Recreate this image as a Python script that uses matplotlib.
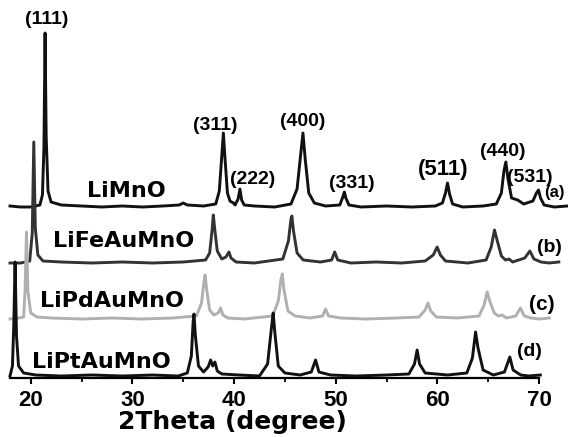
import matplotlib
matplotlib.use("Agg")
import matplotlib.pyplot as plt
from matplotlib.ticker import MultipleLocator

# XRD patterns, intensity (a.u.) above each trace's own baseline
a_x = [17.96, 19.0, 20.0, 20.9, 21.15, 21.3, 21.41, 21.52, 21.7, 22.0, 23.0, 25.0, 27.0, 29.0, 31.0,
       33.0, 34.6, 35.0, 35.4, 37.0, 38.2, 38.55, 38.8, 38.95, 39.1, 39.35, 39.6, 39.76, 39.95, 40.1,
       40.4, 40.58, 40.75, 41.0, 42.0, 44.0, 45.6, 46.2, 46.55, 46.78, 47.0, 47.35, 47.9, 49.0, 50.4,
       50.7, 50.85, 51.0, 51.3, 52.5, 55.0, 57.5, 59.8, 60.5, 60.8, 61.0, 61.2, 61.5, 62.5, 64.5,
       65.8, 66.3, 66.55, 66.74, 66.95, 67.3, 67.9, 68.5, 69.4, 69.75, 69.95, 70.15, 70.5, 71.5, 72.8]
a_y = [1, 0, 0, 2, 12, 60, 174, 70, 16, 5, 2, 1, 0, 1, 0,
       1, 2, 4, 2, 1, 3, 16, 52, 74, 50, 14, 6, 5, 4, 2,
       8, 18, 7, 2, 1, 0, 3, 18, 52, 74, 48, 14, 4, 1, 2,
       10, 15, 9, 2, 0, 1, 0, 1, 4, 14, 24, 13, 3, 0, 1,
       3, 14, 36, 45, 28, 9, 7, 3, 6, 14, 17, 9, 2, 0, 1]

b_x = [17.96, 19.0, 19.9, 20.15, 20.3, 20.45, 20.7, 21.2, 23.0, 26.0, 29.0, 32.0, 35.0, 37.2, 37.6,
       37.85, 37.96, 38.1, 38.35, 38.8, 39.2, 39.5, 39.7, 40.2, 42.0, 44.8, 45.35, 45.6, 45.69, 45.85,
       46.2, 46.8, 48.5, 49.6, 49.9, 50.2, 51.5, 54.0, 56.5, 58.8, 59.6, 59.98, 60.3, 60.8, 63.0,
       64.8, 65.3, 65.62, 65.9, 66.3, 66.7, 67.06, 67.4, 68.6, 69.1, 69.5, 70.2, 71.0, 71.95]
b_y = [0, 0, 2, 30, 121, 35, 8, 2, 1, 0, 1, 0, 1, 3, 10,
       34, 48, 34, 12, 4, 6, 11, 5, 1, 0, 4, 22, 44, 47, 32,
       10, 3, 1, 3, 11, 3, 0, 1, 0, 2, 8, 16, 8, 2, 0,
       3, 16, 33, 22, 7, 3, 4, 1, 5, 12, 4, 1, 0, 1]

c_x = [17.96, 18.8, 19.3, 19.45, 19.58, 19.72, 20.0, 20.6, 22.0, 25.0, 28.0, 31.0, 34.0, 36.3, 36.8,
       37.05, 37.15, 37.3, 37.6, 38.0, 38.45, 38.68, 38.9, 39.4, 41.0, 43.8, 44.35, 44.62, 44.75, 44.9,
       45.3, 46.0, 47.5, 48.7, 49.0, 49.3, 50.5, 53.0, 56.0, 58.2, 58.8, 59.07, 59.35, 59.9, 62.0,
       64.1, 64.6, 64.9, 65.15, 65.6, 66.0, 66.37, 66.8, 67.7, 68.18, 68.55, 69.2, 70.0, 71.0]
c_y = [0, 1, 2, 30, 87, 28, 6, 2, 1, 0, 1, 0, 1, 3, 16,
       38, 44, 30, 9, 4, 6, 11, 4, 1, 0, 3, 18, 40, 45, 30,
       8, 3, 1, 3, 10, 3, 1, 0, 1, 2, 9, 16, 8, 2, 1,
       3, 14, 27, 18, 6, 3, 4, 1, 3, 11, 3, 1, 0, 1]

d_x = [17.96, 18.2, 18.33, 18.46, 18.6, 18.8, 19.3, 20.5, 23.0, 26.0, 29.0, 32.0, 34.5, 35.4, 35.8,
       35.98, 36.06, 36.2, 36.5, 37.0, 37.45, 37.7, 37.9, 38.12, 38.35, 38.8, 40.5, 42.5, 43.3, 43.7,
       43.85, 44.0, 44.35, 45.0, 46.5, 47.6, 48.02, 48.35, 49.5, 52.0, 55.0, 57.2, 57.75, 58.01, 58.25,
       58.8, 61.0, 62.9, 63.45, 63.76, 64.0, 64.5, 65.5, 66.6, 67.13, 67.45, 68.2, 69.0, 70.13]
d_y = [0, 10, 50, 114, 40, 10, 3, 1, 0, 1, 0, 1, 0, 3, 20,
       55, 62, 40, 10, 4, 9, 16, 10, 14, 5, 2, 1, 0, 12, 50,
       63, 45, 10, 3, 1, 4, 16, 4, 1, 0, 1, 2, 12, 26, 12,
       3, 1, 3, 18, 44, 28, 6, 1, 4, 19, 6, 1, 0, 1]

samples = ["LiMnO", "LiFeAuMnO", "LiPdAuMnO", "LiPtAuMnO"]
tags = ["(a)", "(b)", "(c)", "(d)"]
offsets = [171, 115, 59, 2]   # vertical stacking of the patterns

hkl = ["(111)", "(311)", "(222)", "(400)", "(331)", "(511)", "(440)", "(531)"]
hkl_x = [21.6, 38.12, 41.86, 46.78, 51.6, 60.55, 66.44, 69.1]
hkl_y = [358, 253, 198, 256, 195, 209, 226, 200]

fig = plt.figure(figsize=(5.68, 4.37), dpi=100)
ax = fig.add_axes([10 / 568, 59 / 437, 529 / 568, 373 / 437])

xs = [a_x, b_x, c_x, d_x]
ys = [a_y, b_y, c_y, d_y]
colors = ["#111111", "#333333", "#b0b0b0", "#111111"]
for x, y, off, col in zip(xs, ys, offsets, colors):
    ax.plot(x, [v + off for v in y], color=col, lw=2.1, clip_on=False, solid_joinstyle="round")

# sample names
name_pos = [(29.4, 187), (29.1, 137), (28.0, 77), (26.9, 16)]
for s, (px, py) in zip(samples, name_pos):
    ax.text(px, py, s, ha="center", va="center", fontsize=16, fontweight="bold",
            family="DejaVu Sans", color="black")

# (a)...(d) tags
tag_pos = [(72.55, 186, "right", 12), (71.07, 130, "center", 14), (70.28, 74, "center", 15), (69.1, 26, "center", 14)]
for t, (px, py, ha, fs) in zip(tags, tag_pos):
    ax.text(px, py, t, ha=ha, va="center", fontsize=fs, fontweight="bold",
            family="Liberation Sans", clip_on=False)

for lab, hx, hy in zip(hkl, hkl_x, hkl_y):
    fs = 16 if lab == "(511)" else 14
    ax.text(hx, hy, lab, ha="center", va="center", fontsize=fs, fontweight="bold",
            family="Liberation Sans")

ax.set_xlim(17.96, 70)
ax.set_ylim(0, 373)
for side in ["left", "right", "top"]:
    ax.spines[side].set_visible(False)
ax.spines["bottom"].set_linewidth(1.6)
ax.set_yticks([])
ax.xaxis.set_major_locator(MultipleLocator(10))
ax.xaxis.set_minor_locator(MultipleLocator(5))
ax.tick_params(axis="x", which="major", direction="out", length=4, width=1.5, pad=5)
ax.tick_params(axis="x", which="minor", direction="out", length=3, width=1.3)
for lbl in ax.get_xticklabels():
    lbl.set_fontsize(16)
    lbl.set_fontweight("bold")
    lbl.set_family("Liberation Sans")

ax.set_xlabel("2Theta (degree)", fontsize=18, fontweight="bold", family="DejaVu Sans")
ax.xaxis.label.set_va("center")
ax.xaxis.set_label_coords(0.42, -0.118)

fig.savefig("out.png", dpi=100)
